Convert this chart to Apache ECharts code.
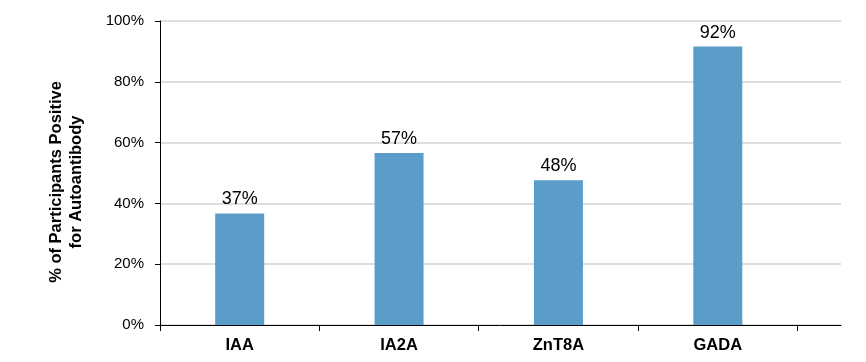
<!DOCTYPE html>
<html>
<head>
<meta charset="utf-8">
<script src="https://cdn.jsdelivr.net/npm/echarts@6/dist/echarts.min.js"></script>
<style>
html,body{margin:0;padding:0;background:#fff;}
#chart{width:866px;height:362px;}
</style>
</head>
<body>
<div id="chart"></div>
<script>
var categories = ['IAA', 'IA2A', 'ZnT8A', 'GADA'];
var values = [36.7, 56.6, 47.6, 91.6];
var yTicks = [0, 20, 40, 60, 80, 100];
var yTitle = '% of Participants Positive\nfor Autoantibody';
var xMax = 4.273;

var FONT = '"Liberation Sans", Arial, sans-serif';
var chart = echarts.init(document.getElementById('chart'), null, {renderer: 'canvas'});

var tickVals = [];
for (var i = 0; i <= categories.length; i++) tickVals.push(i);
var labelVals = categories.map(function (c, i) { return i + 0.5; });

chart.setOption({
  animation: false,
  backgroundColor: '#ffffff',
  grid: {left: 160, right: 25, top: 21, bottom: 37, containLabel: false},
  xAxis: {
    type: 'value',
    min: 0,
    max: xMax,
    splitLine: {show: false},
    axisLine: {show: true, lineStyle: {color: '#000', width: 1}},
    axisTick: {show: true, length: 6, customValues: tickVals, lineStyle: {color: '#000', width: 1}},
    axisLabel: {
      show: true,
      customValues: labelVals,
      margin: 12,
      fontFamily: FONT,
      fontSize: 16.5,
      fontWeight: 'bold',
      color: '#000',
      formatter: function (v) {
        var idx = Math.round(v - 0.5);
        return categories[idx] || '';
      }
    }
  },
  yAxis: {
    type: 'value',
    min: yTicks[0],
    max: yTicks[yTicks.length - 1],
    interval: yTicks[1] - yTicks[0],
    name: yTitle,
    nameLocation: 'middle',
    nameGap: 74,
    nameTextStyle: {
      fontFamily: FONT,
      fontSize: 16.5,
      fontWeight: 'bold',
      color: '#000',
      lineHeight: 20,
      padding: [0, 18, 0, 0]
    },
    axisLine: {show: true, lineStyle: {color: '#000', width: 1}},
    axisTick: {show: true, length: 5, lineStyle: {color: '#000', width: 1}},
    axisLabel: {
      margin: 16,
      fontFamily: FONT,
      fontSize: 15,
      color: '#000',
      formatter: '{value}%'
    },
    splitLine: {show: true, lineStyle: {color: '#dedede', width: 2}}
  },
  series: [{
    type: 'bar',
    barWidth: 49,
    itemStyle: {color: '#5A9DC8'},
    label: {
      show: true,
      position: 'top',
      distance: 5,
      fontFamily: FONT,
      fontSize: 18,
      color: '#000',
      formatter: function (p) { return Math.round(p.value[1]) + '%'; }
    },
    data: values.map(function (v, i) { return [i + 0.5, v]; })
  }]
});
</script>
</body>
</html>
